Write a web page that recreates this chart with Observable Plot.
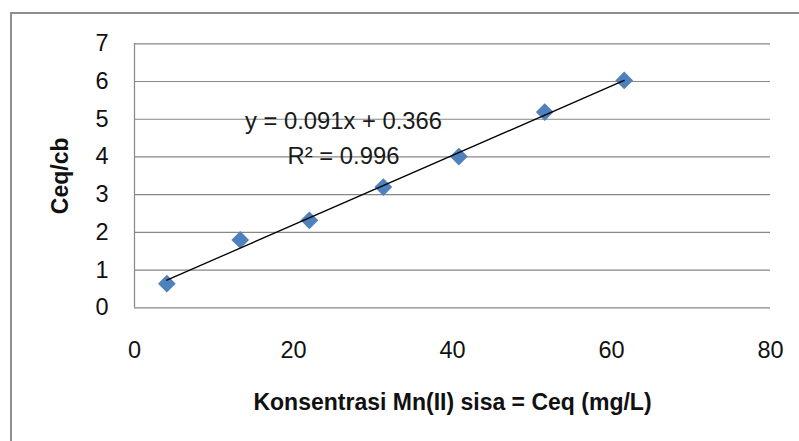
<!DOCTYPE html>
<html><head><meta charset="utf-8">
<script src="https://cdn.jsdelivr.net/npm/d3@7"></script>
<script src="https://cdn.jsdelivr.net/npm/@observablehq/plot@0.6"></script>
<style>
body{margin:0;background:#fff;overflow:hidden;width:799px;height:441px;position:relative}
#chart{position:absolute;left:0;top:0}
#border{position:absolute;left:9.5px;top:12.3px;width:900px;height:600px;border:2.6px solid #8e8e8e;box-sizing:border-box;pointer-events:none;z-index:2}
</style></head><body>
<div id="chart"></div><div id="border"></div>
<script>
const ceq = [4.07, 13.3, 22.0, 31.3, 40.8, 51.6, 61.6];
const ratio = [0.64, 1.80, 2.32, 3.20, 4.01, 5.19, 6.03];
const xTicks = [0, 20, 40, 60, 80];
const yTicks = [0, 1, 2, 3, 4, 5, 6, 7];
const trendText = ["y = 0.091x + 0.366", "R² = 0.996"];
const xLabel = "Konsentrasi Mn(II) sisa = Ceq (mg/L)";
const yLabel = "Ceq/cb";

const data = ceq.map((x, i) => ({x, y: ratio[i]}));
const font = "'Liberation Sans', Arial, sans-serif";
const gridColor = "#878787";

const plot = Plot.plot({
  width: 799, height: 441,
  marginLeft: 134, marginRight: 29, marginTop: 43.3, marginBottom: 133.7,
  style: {fontFamily: font, fontSize: "23px", color: "#111", background: "transparent"},
  x: {domain: [0, 80], ticks: xTicks},
  y: {domain: [0, 7], ticks: yTicks},
  marks: [
    Plot.gridY(yTicks, {stroke: gridColor, strokeOpacity: 1, strokeWidth: 1.2}),
    Plot.ruleX([0], {stroke: gridColor, strokeWidth: 1.2}),
    Plot.axisY(yTicks, {tickSize: 0, tickPadding: 26, fontSize: 23.5, label: null}),
    Plot.axisX(xTicks, {tickSize: 0, tickPadding: 34, fontSize: 23.5, label: null}),
    Plot.dot(data, {x: "x", y: "y", symbol: "diamond2", r: 8, fill: "#4f81bd", stroke: "none"}),
    Plot.linearRegressionY(data, {x: "x", y: "y", stroke: "#000", strokeWidth: 1.3, ci: 0}),
    Plot.text([trendText.join("\n")], {text: d => d, frameAnchor: "top-left", dx: 209, dy: 119.7, lineAnchor: "bottom", lineHeight: 1.43, fontSize: 23.8, fill: "#1a1a1a", textAnchor: "middle"}),
    Plot.text([xLabel], {text: d => d, frameAnchor: "bottom", dy: 94.5, lineAnchor: "middle", textAnchor: "middle", fontWeight: "bold", fontSize: 23, fill: "#111"}),
    Plot.text([yLabel], {text: d => d, frameAnchor: "left", dx: -74, rotate: -90, textAnchor: "middle", fontWeight: "bold", fontSize: 23, lineAnchor: "middle", fill: "#111"})
  ]
});
document.getElementById("chart").appendChild(plot);
</script>
</body></html>
